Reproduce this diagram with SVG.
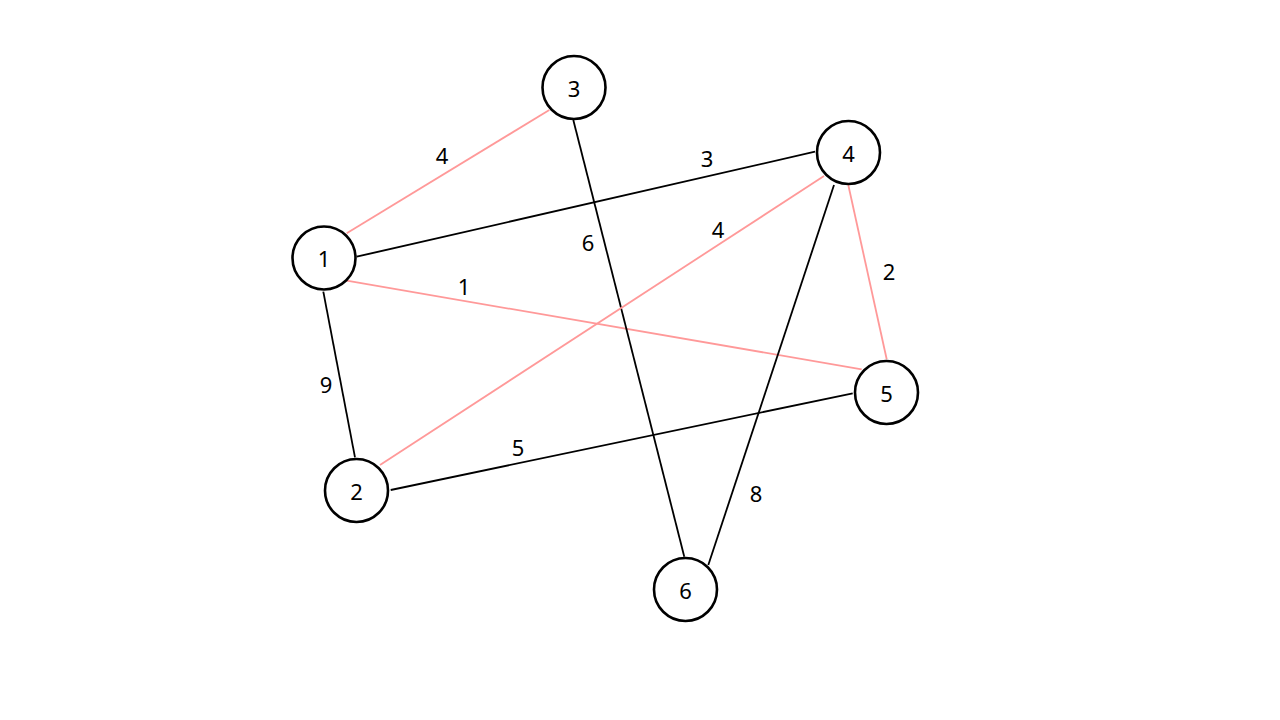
<svg xmlns="http://www.w3.org/2000/svg" width="1280" height="720" viewBox="0 0 1280 720">
<style>
.e{stroke:#000;stroke-width:1.8;fill:none}
.p{stroke:#ff9999;stroke-width:1.8;fill:none}
.n circle{fill:#fff;stroke:#000;stroke-width:2.6}
text{font-family:"Noto Sans","DejaVu Sans",sans-serif;font-size:22px;fill:#000;text-anchor:middle;dominant-baseline:central}
</style>
<rect width="1280" height="720" fill="#fff"/>
<g id="connectors">
<line class="p" x1="346.7" y1="233.3" x2="549.3" y2="110"/>
<line class="e" x1="356.7" y1="256.7" x2="815" y2="151.7"/>
<line class="p" x1="346.7" y1="280.7" x2="861.7" y2="369.3"/>
<line class="e" x1="323.3" y1="291.7" x2="355" y2="457.3"/>
<line class="e" x1="573.3" y1="120" x2="684.3" y2="556.7"/>
<line class="p" x1="380" y1="465" x2="824" y2="176"/>
<line class="p" x1="848.3" y1="185" x2="886.7" y2="359.3"/>
<line class="e" x1="390.7" y1="490" x2="852.7" y2="393.3"/>
<line class="e" x1="834" y1="185" x2="708.3" y2="565"/>
</g>
<g id="edge-labels">
<text x="442" y="155">4</text>
<text x="707" y="158">3</text>
<text x="464" y="286">1</text>
<text x="326" y="384">9</text>
<text x="588" y="242">6</text>
<text x="718" y="229">4</text>
<text x="889" y="271">2</text>
<text x="518" y="447">5</text>
<text x="756" y="493">8</text>
</g>
<g id="node1" class="n"><circle cx="324" cy="258" r="31.5"/><text x="324" y="258">1</text></g>
<g id="node2" class="n"><circle cx="356.5" cy="490.5" r="31.5"/><text x="356.5" y="490.5">2</text></g>
<g id="node3" class="n"><circle cx="574" cy="87.5" r="31.5"/><text x="574" y="87.5">3</text></g>
<g id="node4" class="n"><circle cx="848.5" cy="152.5" r="31.5"/><text x="848.5" y="152.5">4</text></g>
<g id="node5" class="n"><circle cx="886.5" cy="392.5" r="31.5"/><text x="886.5" y="392.5">5</text></g>
<g id="node6" class="n"><circle cx="685.5" cy="589.5" r="31.5"/><text x="685.5" y="589.5">6</text></g>
</svg>
